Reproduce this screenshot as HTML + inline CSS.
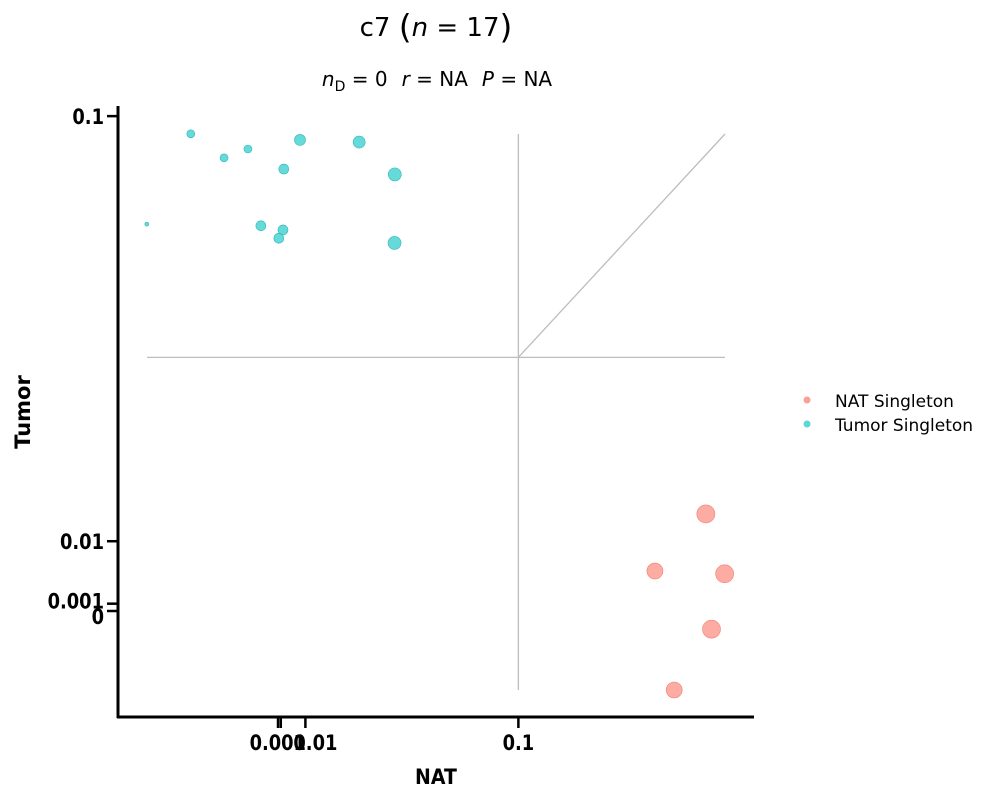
<!DOCTYPE html>
<html><head><meta charset="utf-8"><style>
html,body{margin:0;padding:0;background:#fff;}
svg text{font-family:"DejaVu Sans","Liberation Sans",sans-serif;}
</style></head><body>
<svg id="chart" width="1000" height="800" viewBox="0 0 1000 800" xmlns="http://www.w3.org/2000/svg">
<text x="436" y="36" font-size="26" text-anchor="middle">c7 <tspan font-size="33" dy="2">(</tspan><tspan dy="-2" font-style="italic">n</tspan> = 17<tspan font-size="33" dy="2">)</tspan></text>
<text x="437" y="86" font-size="20" text-anchor="middle"><tspan font-style="italic">n</tspan><tspan font-size="14" dy="5">D</tspan><tspan dy="-5"> = 0</tspan><tspan dx="14" font-style="italic">r</tspan> = NA<tspan dx="14" font-style="italic">P</tspan> = NA</text>
<g id="guides" stroke="#bdbdbd" stroke-width="1.3" fill="none"></g>
<g id="points"></g>
<g id="axes"></g>
<text x="436" y="784" font-size="21" font-weight="bold" text-anchor="middle" transform="translate(436 0) scale(0.9 1) translate(-436 0)">NAT</text>
<text x="30" y="412" font-size="21" font-weight="bold" text-anchor="middle" transform="rotate(-90 30 412)">Tumor</text>
<g font-size="17">
<circle cx="807" cy="400" r="3.5" fill="#fa8072" fill-opacity="0.75"/>
<text x="835" y="407">NAT Singleton</text>
<circle cx="807" cy="424" r="3.5" fill="#40d0d0" fill-opacity="0.85"/>
<text x="835" y="431">Tumor Singleton</text>
</g>
</svg>
<script>
const tumorX=[-0.051,-0.033,-0.020,-0.011,-0.0062,0.0018,0.0003,0.0021,0.008,0.0306,0.045,0.0449];
const tumorY=[0.0714,0.095,0.0884,0.0908,0.071,0.070,0.068,0.0854,0.0933,0.0927,0.084,0.0669];
const tumorR=[2,4,4,4,5,5,5,5,5.5,6,6.5,6.5];
const natX=[0.2006,0.171,0.212,0.204,0.182];
const natY=[0.0142,0.0056,0.0052,-0.0025,-0.0114];
const natR=[9,8,9,9,8];
const xTicks=[0,0.001,0.01,0.1];
const xTickLabels=["0","0.001","0.01","0.1"];
const yTicks=[0,0.001,0.01,0.1];
const yTickLabels=["0","0.001","0.01","0.1"];
const guideX=0.1, guideY=0.042;

function sl(v,c){return Math.sign(v)*Math.log10(1+Math.abs(v)/c);}
function xs(v){return 278+1924*sl(v,0.3);}
function ys(v){return 611-1525*sl(v,0.09);}
const NS="http://www.w3.org/2000/svg";
function mk(tag,attrs,parent){const e=document.createElementNS(NS,tag);for(const k in attrs)e.setAttribute(k,attrs[k]);parent.appendChild(e);return e;}

const guides=document.getElementById('guides');
let g1=mk('line',{x1:147,y1:ys(guideY),x2:725,y2:ys(guideY)},guides);


let g2=mk('line',{x1:xs(guideX),y1:134,x2:xs(guideX),y2:690},guides);


let g3=mk('line',{x1:xs(guideX),y1:ys(guideY),x2:725,y2:134},guides);



const pts=document.getElementById('points');
for(let i=0;i<tumorX.length;i++){
  const c=mk('circle',{cx:xs(tumorX[i]),cy:ys(tumorY[i]),r:tumorR[i],fill:'#40d0d0','fill-opacity':0.8,stroke:'#30b8b8','stroke-width':0.6},pts);
  
  
}
for(let i=0;i<natX.length;i++){
  const c=mk('circle',{cx:xs(natX[i]),cy:ys(natY[i]),r:natR[i],fill:'#fa8072','fill-opacity':0.65,stroke:'#f08070','stroke-width':0.6},pts);
  
  
}

const ax=document.getElementById('axes');
let sp1=mk('line',{x1:118,y1:106,x2:118,y2:718,stroke:'#000','stroke-width':3},ax);


let sp2=mk('line',{x1:117,y1:717,x2:754,y2:717,stroke:'#000','stroke-width':3},ax);


const xOff=[0,-3,10,0];
for(let i=0;i<xTicks.length;i++){
  const x=xs(xTicks[i]);
  const t=mk('line',{x1:x,y1:717,x2:x,y2:728,stroke:'#000','stroke-width':2.5},ax);
  
  
  if(xTickLabels[i]==="0")continue;
  const lx=x+xOff[i];
  const l=mk('text',{x:lx,y:750,'font-size':21,'font-weight':'bold','text-anchor':'middle',transform:'translate('+lx+' 0) scale(0.85 1) translate('+(-lx)+' 0)'},ax);
  l.textContent=xTickLabels[i];
  
  
}
const yOff=[7,-1,2,2];
for(let i=0;i<yTicks.length;i++){
  const y=ys(yTicks[i]);
  const t=mk('line',{x1:107,y1:y,x2:118,y2:y,stroke:'#000','stroke-width':2.5},ax);
  
  
  const l=mk('text',{x:104,y:y+6+yOff[i],'font-size':21,'font-weight':'bold','text-anchor':'end',transform:'translate(104 0) scale(0.85 1) translate(-104 0)'},ax);
  l.textContent=yTickLabels[i];
  
  
}
</script>
</body></html>
